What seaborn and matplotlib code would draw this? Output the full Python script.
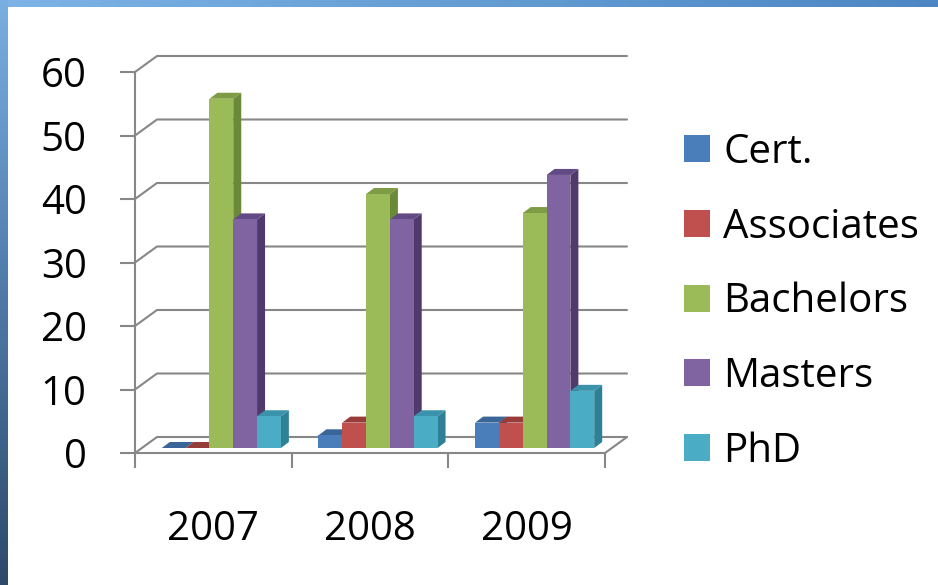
import numpy as np
import pandas as pd
import matplotlib.pyplot as plt
import seaborn as sns
from matplotlib.patches import Polygon, Patch
from matplotlib.lines import Line2D
from matplotlib.transforms import ScaledTranslation, IdentityTransform
from matplotlib.colors import LinearSegmentedColormap

# data
years = ["2007", "2008", "2009"]
degrees = ["Cert.", "Associates", "Bachelors", "Masters", "PhD"]
cert = [0, 2, 4]
associates = [0, 4, 4]
bachelors = [55, 40, 37]
masters = [36, 36, 43]
phd = [5, 5, 9]
y_ticks = [0, 10, 20, 30, 40, 50, 60]

front_colors = ["#4a7ebb", "#c0504d", "#9bbb59", "#8064a2", "#4bacc6"]
side_colors = ["#2f5787", "#8b3331", "#6a8a3a", "#4f3a6b", "#2e8096"]
top_colors = ["#3a6598", "#983c3a", "#7d9c45", "#624b85", "#3a93ab"]
grid_color = "#878787"

df = pd.DataFrame({
    "year": years * len(degrees),
    "degree": np.repeat(degrees, len(years)),
    "count": cert + associates + bachelors + masters + phd,
})

sns.set_style("white")
plt.rcParams["font.family"] = ["Open Sans", "DejaVu Sans"]
plt.rcParams["text.color"] = "black"

W, H = 938, 585
fig = plt.figure(figsize=(W / 100, H / 100), dpi=100)
fig.patch.set_facecolor("white")

# front plane of the 3d box
ax = fig.add_axes([135 / W, 1 - 453 / H, 470 / W, 381 / H])
sns.barplot(data=df, x="year", y="count", hue="degree", order=years,
            hue_order=degrees, palette=front_colors, saturation=1,
            width=0.76, errorbar=None, legend=False, ax=ax)
ax.set_xlim(-0.5, 2.5)
ax.set_ylim(0, 60)
ax.set_xlabel("")
ax.set_ylabel("")
ax.set_yticks(y_ticks)
ax.set_xticks([-0.5, 0.5, 1.5, 2.5], minor=True)
ax.tick_params(axis="y", which="major", length=10.8, width=1.5, color=grid_color,
               labelsize=29, labelcolor="black", pad=24, left=True)
ax.tick_params(axis="x", which="major", length=0, labelsize=29, labelcolor="black", pad=41)
ax.tick_params(axis="x", which="minor", length=10.8, width=1.5, color=grid_color, bottom=True)
for s in ["top", "right"]:
    ax.spines[s].set_visible(False)
for s in ["left", "bottom"]:
    ax.spines[s].set_color(grid_color)
    ax.spines[s].set_linewidth(1.5)
ax.patch.set_alpha(0)

back = np.array([22, 16])
shift = np.array([8, 5])
depth = np.array([8, 6])


def px(x, y, off=(0, 0)):
    return ax.transData.transform((x, y)) + np.asarray(off)


def add_line(points, **kw):
    pts = np.array(points)
    ln = Line2D(pts[:, 0], pts[:, 1], transform=IdentityTransform(), **kw)
    ax.add_artist(ln)
    ln.set_clip_on(False)


# back wall gridlines + floor edges
for v in y_ticks:
    add_line([px(-0.5, v), px(-0.5, v, back), px(2.5, v, back)],
             color=grid_color, lw=1.5, zorder=1)
add_line([px(2.5, 0), px(2.5, 0, back)], color=grid_color, lw=1.5, zorder=1)

# fake 3d bars
off = ScaledTranslation(shift[0] / 100, shift[1] / 100, fig.dpi_scale_trans)
for i, cont in enumerate(ax.containers):
    for bar in cont:
        x0, w, h = bar.get_x(), bar.get_width(), bar.get_height()
        bar.set_transform(ax.transData + off)
        bar.set_zorder(3 + 0.1 * i + 0.05)
        bar.set_edgecolor("none")
        bar.set_clip_on(False)
        side = [px(x0 + w, 0, shift), px(x0 + w, h, shift),
                px(x0 + w, h, shift + depth), px(x0 + w, 0, shift + depth)]
        top = [px(x0, h, shift), px(x0 + w, h, shift),
               px(x0 + w, h, shift + depth), px(x0, h, shift + depth)]
        for pts, col in [(side, side_colors[i]), (top, top_colors[i])]:
            pg = Polygon(pts, closed=True, transform=IdentityTransform(),
                         facecolor=col, edgecolor="none", zorder=3 + 0.1 * i)
            ax.add_artist(pg)
            pg.set_clip_on(False)

handles = [Patch(facecolor=c, edgecolor="none") for c in front_colors]
leg = ax.legend(handles, degrees, loc="center left", bbox_to_anchor=(684 / W, 1 - 302 / H),
                bbox_transform=fig.transFigure, frameon=False, fontsize=29,
                handlelength=0.65, handleheight=0.65, handletextpad=0.32,
                labelspacing=0.85, borderpad=0, borderaxespad=0)
for t in leg.get_texts():
    t.set_color("black")

# window frame gradients
top_band = fig.add_axes([0, 1 - 7 / H, 1, 7 / H])
top_band.imshow(np.linspace(0, 1, 256)[None, :], aspect="auto",
                cmap=LinearSegmentedColormap.from_list("t", ["#7db3e6", "#4d86c2"]))
top_band.axis("off")
left_band = fig.add_axes([0, 0, 8 / W, 1])
left_band.imshow(np.linspace(0, 1, 256)[:, None], aspect="auto",
                 cmap=LinearSegmentedColormap.from_list("l", ["#7aafe2", "#4f7aa8", "#2c4a6a"]))
left_band.axis("off")

fig.savefig("out.png", dpi=100)
